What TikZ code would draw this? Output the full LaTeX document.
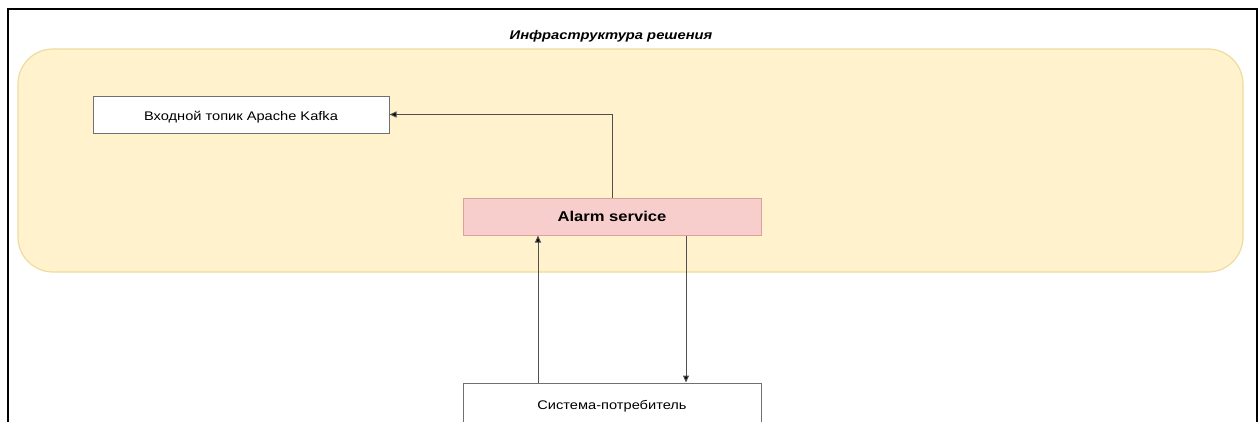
\documentclass[tikz,border=0pt]{standalone}
\usepackage{fontspec}
\setmainfont{Liberation Sans}
\newfontfamily\wfont[FakeStretch=1.17]{Liberation Sans}
\usetikzlibrary{arrows.meta}
\definecolor{infrafill}{HTML}{FFF2CC}
\definecolor{infradraw}{HTML}{EEDCA0}
\definecolor{alarmfill}{HTML}{F8CECC}
\definecolor{alarmdraw}{HTML}{DDA09C}
\definecolor{boxdraw}{HTML}{707070}
\definecolor{linecol}{HTML}{505050}
\tikzset{
  infra/.style={draw=infradraw, fill=infrafill, line width=1.2pt, rounded corners=35pt, inner sep=0pt},
  plainbox/.style={draw=boxdraw, fill=white, line width=1pt, inner sep=0pt, text height=12pt, text depth=0pt, font=\wfont\fontsize{12.5}{14}\selectfont},
  alarmbox/.style={draw=alarmdraw, fill=alarmfill, line width=1pt, inner sep=0pt, font=\wfont\fontsize{14.2}{16}\selectfont\bfseries},
  titletext/.style={inner sep=0pt, font=\wfont\fontsize{12.6}{15}\selectfont\bfseries\itshape},
  arr/.style={draw=linecol, line width=1pt, -{Triangle[length=7pt,width=6pt,fill=black]}},
}
\begin{document}
\begin{tikzpicture}[x=1pt,y=-1pt]
\useasboundingbox (0,0) rectangle (1258,421);
\fill[white] (0,0) rectangle (1258,421);
\node[infra, minimum width=1225pt, minimum height=223pt] (infra) at (630.5,160.5) {};
\node[titletext] (title) at (611,36) {Инфраструктура решения};
\node[plainbox, minimum width=296pt, minimum height=37pt] (kafka) at (241,114.5) {Входной топик Apache Kafka};
\node[alarmbox, minimum width=298pt, minimum height=37pt] (alarm) at (612,216.5) {Alarm service};
\node[plainbox, minimum width=298pt, minimum height=40pt] (consumer) at (612,403) {Система-потребитель};
\draw[arr] (alarm.north) |- (kafka.east);
\draw[arr] ([xshift=-74pt]consumer.north) -- ([xshift=-74pt]alarm.south);
\draw[arr] ([xshift=74pt]alarm.south) -- ([xshift=74pt]consumer.north);
\draw[line width=2pt] (8,440) -- (8,9) -- (1257,9) -- (1257,440);
\end{tikzpicture}
\end{document}
